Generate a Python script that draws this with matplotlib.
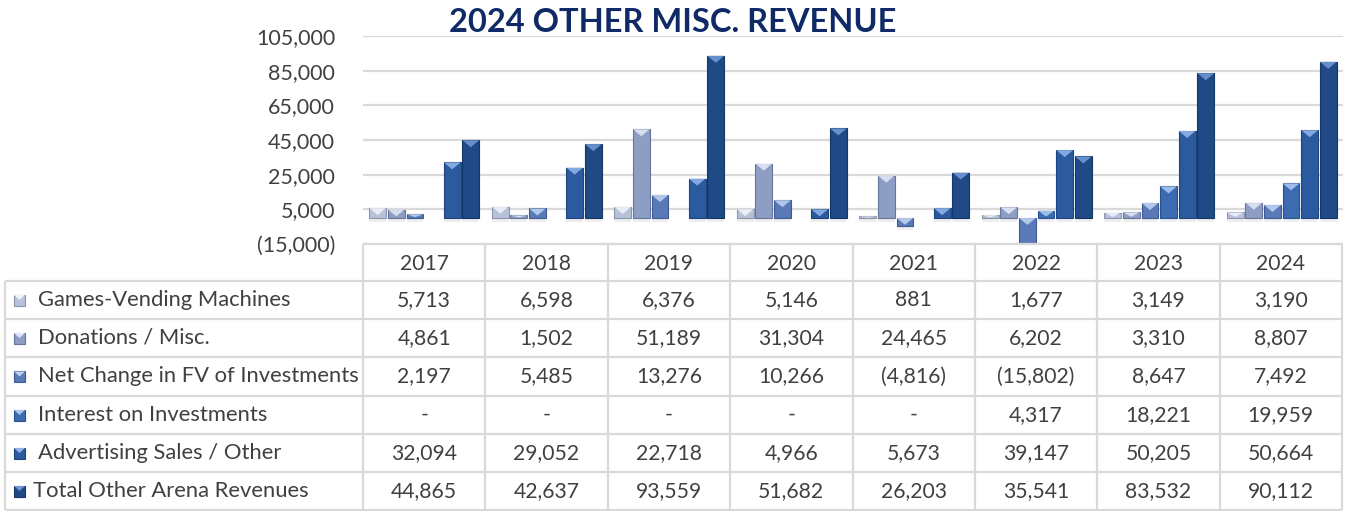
import numpy as np
import matplotlib
matplotlib.use('Agg')
import matplotlib.pyplot as plt
from matplotlib.patches import Polygon, Rectangle

plt.rcParams['font.family'] = ['Lato', 'DejaVu Sans']

years = ['2017', '2018', '2019', '2020', '2021', '2022', '2023', '2024']
series_names = ['Games-Vending Machines', 'Donations / Misc.',
                'Net Change in FV of Investments', 'Interest on Investments',
                'Advertising Sales / Other', 'Total Other Arena Revenues']
games = [5713, 6598, 6376, 5146, 881, 1677, 3149, 3190]
donations = [4861, 1502, 51189, 31304, 24465, 6202, 3310, 8807]
net_change = [2197, 5485, 13276, 10266, -4816, -15802, 8647, 7492]
interest = [None, None, None, None, None, 4317, 18221, 19959]
advertising = [32094, 29052, 22718, 4966, 5673, 39147, 50205, 50664]
total = [44865, 42637, 93559, 51682, 26203, 35541, 83532, 90112]
y_ticks = [-15000, 5000, 25000, 45000, 65000, 85000, 105000]

series = [games, donations, net_change, interest, advertising, total]
colors = ['#b7c1d8', '#8d9dc3', '#5a7ab7', '#3c6bb1', '#2b5a9f', '#1f4a86']
edges = ['#8a95ad', '#66769b', '#3d5a92', '#27518f', '#1c4580', '#143664']
tips = ['#eef2fa', '#dfe6f5', '#bcd0f0', '#a9c6f0', '#8fb3ea', '#6f97d6']

W, H = 1346, 511
fig = plt.figure(figsize=(W / 100, H / 100), dpi=100)

# ---- chart area ----
ax = fig.add_axes([363 / W, (H - 244) / H, (1343 - 363) / W, (244 - 36) / H])
ylo, yhi = -15000, 105000
x = np.arange(len(years))
step = 0.152
width = 0.136
px = (yhi - ylo) / 208.0  # data units per pixel

for i, vals in enumerate(series):
    v = np.array([np.nan if a is None else a for a in vals], dtype=float)
    pos = x + (i - 2.5) * step
    # soft shadow under each bar
    for xp, val in zip(pos, v):
        if np.isnan(val):
            continue
        low = min(val, 0)
        ax.add_patch(Rectangle((xp - width / 2, low - 4 * px), width, 4 * px,
                               facecolor='#c8c8c8', edgecolor='none', alpha=0.3, zorder=1))
    ax.bar(pos, v, width, color=colors[i], edgecolor=edges[i], linewidth=0.8, zorder=2)
    # bevel chevron on the top edge
    for xp, val in zip(pos, v):
        if np.isnan(val):
            continue
        top = max(val, 0)
        d = min(7 * px, abs(val) * 0.8)
        x0, x1 = xp - width / 2, xp + width / 2
        ax.add_patch(Polygon([(x0, top), (x1, top), (xp, top - d)], closed=True,
                             facecolor=tips[i], edgecolor='none', alpha=0.9, zorder=3))

ax.set_xlim(-0.5, len(years) - 0.5)
ax.set_ylim(ylo, yhi)
ax.set_yticks(y_ticks)
ax.set_yticklabels(['({:,})'.format(-t) if t < 0 else '{:,}'.format(t) for t in y_ticks],
                   fontsize=15.5, color='#404040')
ax.tick_params(axis='y', length=0, pad=20)
ax.set_xticks([])
ax.grid(axis='y', color='#d9d9d9', linewidth=1.6, zorder=0)
ax.set_axisbelow(True)
for s in ax.spines.values():
    s.set_visible(False)

fig.text(673 / W, 1 - 22 / H, '2024 OTHER MISC. REVENUE', ha='center', va='center',
         fontsize=23.5, fontweight='bold', color='#102a68')

# ---- data table ----
tb = fig.add_axes([0, 0, 1, 1])
tb.set_xlim(0, W)
tb.set_ylim(H, 0)
tb.axis('off')

col_edges = np.linspace(363, 1342, len(years) + 1)
row_edges = [244, 281, 319, 357, 396, 434, 472, 510]
line_c = '#d9d9d9'
lw = 1.6

# header row
tb.hlines(row_edges[0], col_edges[0], col_edges[-1], color=line_c, lw=lw)
for r in row_edges[1:]:
    tb.hlines(r, 5, col_edges[-1], color=line_c, lw=lw)
for c in col_edges:
    tb.vlines(c, row_edges[0], row_edges[-1], color=line_c, lw=lw)
tb.vlines(5, row_edges[1], row_edges[-1], color=line_c, lw=lw)

def fmt(v):
    if v is None:
        return '-'
    if v < 0:
        return '({:,})'.format(-v)
    return '{:,}'.format(v)

txt_c = '#404040'
fs = 15.2
fs_lab = 15.8
for j, yr in enumerate(years):
    cx = (col_edges[j] + col_edges[j + 1]) / 2
    tb.text(cx, (row_edges[0] + row_edges[1]) / 2 + 1, yr, ha='center', va='center',
            fontsize=fs, color=txt_c)

for i, (name, vals) in enumerate(zip(series_names, series)):
    cy = (row_edges[i + 1] + row_edges[i + 2]) / 2
    tb.add_patch(Rectangle((14, cy - 5), 11, 11, facecolor=colors[i],
                           edgecolor=edges[i], lw=0.8))
    tb.add_patch(Polygon([(14, cy - 5), (25, cy - 5), (19.5, cy)], closed=True,
                         facecolor=tips[i], edgecolor='none'))
    lx = 33 if i == len(series) - 1 else 38
    tb.text(lx, cy, name, ha='left', va='center', fontsize=fs_lab, color=txt_c)
    for j, v in enumerate(vals):
        cx = (col_edges[j] + col_edges[j + 1]) / 2
        tb.text(cx, cy, fmt(v), ha='center', va='center', fontsize=fs, color=txt_c)

fig.savefig('out.png', dpi=100)
